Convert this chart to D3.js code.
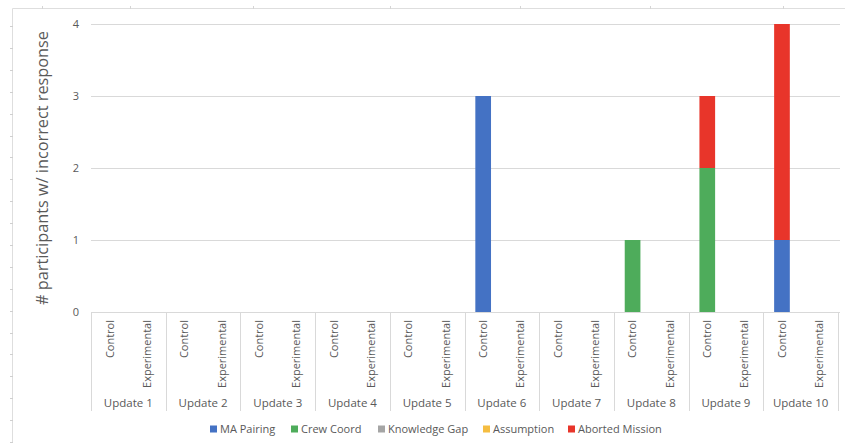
<!DOCTYPE html>
<html><head><meta charset="utf-8">
<script src="https://cdn.jsdelivr.net/npm/d3@7"></script>
<style>body{margin:0;background:#fff;}svg{display:block;font-family:"Open Sans",sans-serif;}</style>
</head><body><svg id="c" width="845" height="443"></svg>
<script>
const updates = ["Update 1","Update 2","Update 3","Update 4","Update 5","Update 6","Update 7","Update 8","Update 9","Update 10"];
const groups = ["Control","Experimental"];
const seriesNames = ["MA Pairing","Crew Coord","Knowledge Gap","Assumption","Aborted Mission"];
const seriesColors = ["#4472c4","#4eac5b","#a5a5a5","#f5bd41","#e8352a"];
// values per (update, group) in order U1C,U1E,U2C,U2E,...
const maPairing      = [0,0, 0,0, 0,0, 0,0, 0,0, 3,0, 0,0, 0,0, 0,0, 1,0];
const crewCoord      = [0,0, 0,0, 0,0, 0,0, 0,0, 0,0, 0,0, 1,0, 2,0, 0,0];
const knowledgeGap   = [0,0, 0,0, 0,0, 0,0, 0,0, 0,0, 0,0, 0,0, 0,0, 0,0];
const assumption     = [0,0, 0,0, 0,0, 0,0, 0,0, 0,0, 0,0, 0,0, 0,0, 0,0];
const abortedMission = [0,0, 0,0, 0,0, 0,0, 0,0, 0,0, 0,0, 0,0, 1,0, 3,0];
const yTicks = [0,1,2,3,4];
const yLabel = "# participants w/ incorrect response";

const svg = d3.select("#c");
const L = 91, R = 838, T = 24, B = 312;
const keys = [];
updates.forEach((u,i)=>groups.forEach((g,j)=>keys.push(i*2+j)));
const rows = keys.map(k=>({k, update: updates[Math.floor(k/2)], group: groups[k%2],
  "MA Pairing": maPairing[k], "Crew Coord": crewCoord[k], "Knowledge Gap": knowledgeGap[k],
  "Assumption": assumption[k], "Aborted Mission": abortedMission[k]}));

const x = d3.scaleBand().domain(keys).range([L,R]);
const y = d3.scaleLinear().domain([0,4]).range([B,T]);
const color = d3.scaleOrdinal().domain(seriesNames).range(seriesColors);

// decorative frame
const fc = "#dedede";
svg.append("line").attr("x1",12.5).attr("x2",845).attr("y1",8.5).attr("y2",8.5).attr("stroke",fc);
svg.append("line").attr("x1",12.5).attr("x2",12.5).attr("y1",8.5).attr("y2",443).attr("stroke",fc);
for(let ty=26; ty<443; ty+=21.9){
  svg.append("line").attr("x1",10).attr("x2",13).attr("y1",Math.round(ty)+0.5).attr("y2",Math.round(ty)+0.5).attr("stroke","#cfcfcf");
}
[42,130,253,390,520,650,783].forEach(tx=>svg.append("line").attr("x1",tx+0.5).attr("x2",tx+0.5).attr("y1",6).attr("y2",9).attr("stroke","#d5d5d5"));

// gridlines
svg.append("g").selectAll("line").data(yTicks).join("line")
  .attr("x1",L).attr("x2",R+2).attr("y1",d=>Math.round(y(d))+0.5).attr("y2",d=>Math.round(y(d))+0.5)
  .attr("stroke","#d9d9d9").attr("stroke-width",1);

// y tick labels
svg.append("g").selectAll("text").data(yTicks).join("text")
  .attr("x",76).attr("y",d=>y(d)).attr("dy","0.35em").attr("text-anchor","middle")
  .attr("font-size",11).attr("fill","#595959").text(d=>d);

// y title
svg.append("text").attr("transform",`translate(48,168) rotate(-90)`)
  .attr("text-anchor","middle").attr("font-size",16.3).attr("fill","#595959").text(yLabel);

// stacked bars
const stack = d3.stack().keys(seriesNames)(rows);
const bw = x.bandwidth()*0.42;
svg.append("g").selectAll("g").data(stack).join("g").attr("fill",d=>color(d.key))
  .selectAll("rect").data(d=>d.filter(s=>s[1]-s[0]>0)).join("rect")
  .attr("x",d=>x(d.data.k)+x.bandwidth()/2-bw/2).attr("width",bw)
  .attr("y",d=>y(d[1])).attr("height",d=>y(d[0])-y(d[1]));

// group separators
const step2 = x.step()*2;
svg.append("g").selectAll("line").data(d3.range(updates.length+1)).join("line")
  .attr("x1",i=>Math.round(L+i*step2)+0.5).attr("x2",i=>Math.round(L+i*step2)+0.5)
  .attr("y1",B).attr("y2",411).attr("stroke","#d9d9d9");

// sub labels
svg.append("g").selectAll("text").data(rows).join("text")
  .attr("transform",d=>`translate(${x(d.k)+x.bandwidth()/2},320) rotate(-90)`)
  .attr("dy","0.35em").attr("text-anchor","end").attr("font-size",11).attr("fill","#595959")
  .text(d=>d.group);

// update labels
svg.append("g").selectAll("text").data(updates).join("text")
  .attr("x",(d,i)=>L+i*step2+step2/2).attr("y",403).attr("dy","0.35em").attr("text-anchor","middle")
  .attr("font-size",11.5).attr("fill","#595959").text(d=>d);

// legend
const legX = [210,291,378,483,568];
const lg = svg.append("g").selectAll("g").data(seriesNames).join("g")
  .attr("transform",(d,i)=>`translate(${legX[i]},429)`);
lg.append("rect").attr("x",0).attr("y",-3.5).attr("width",7).attr("height",7).attr("fill",d=>color(d));
lg.append("text").attr("x",10).attr("dy","0.35em").attr("font-size",11).attr("fill","#595959").text(d=>d);
</script></body></html>
